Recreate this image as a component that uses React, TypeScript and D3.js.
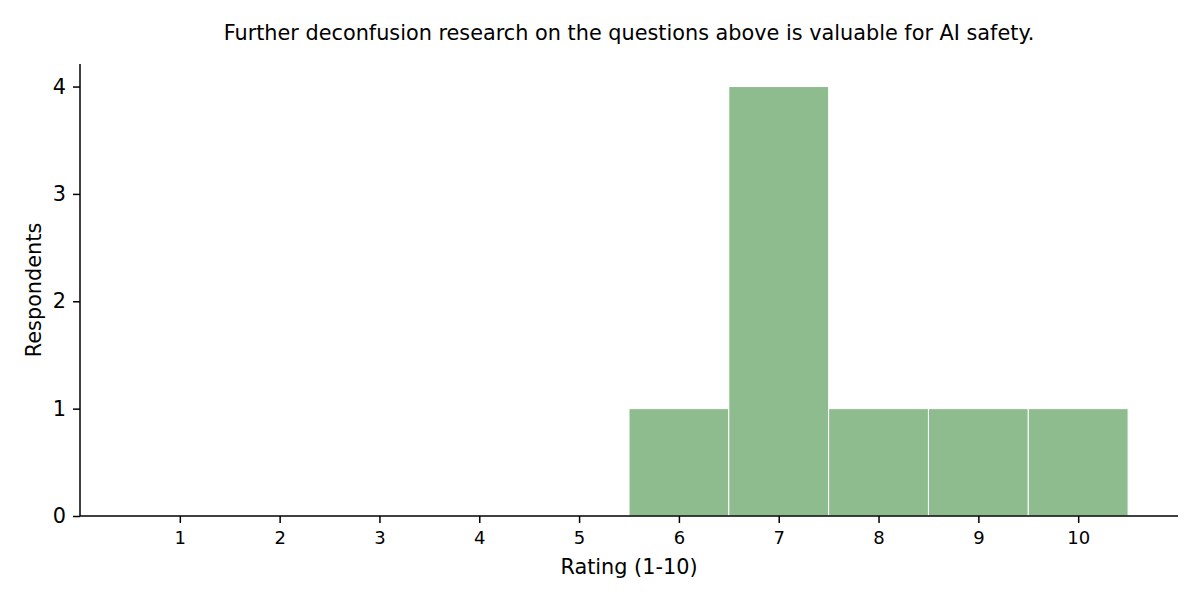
import React, { useEffect, useRef } from 'react';
import * as d3 from 'd3';

const ratings = [1, 2, 3, 4, 5, 6, 7, 8, 9, 10];
const respondents = [0, 0, 0, 0, 0, 1, 4, 1, 1, 1];
const yTicks = [0, 1, 2, 3, 4];
const title = 'Further deconfusion research on the questions above is valuable for AI safety.';

export default function App() {
  const svgRef = useRef<SVGSVGElement>(null);

  useEffect(() => {
    if (!svgRef.current) return;
    document.body.style.margin = '0';
    const width = 1200;
    const height = 600;
    const margin = { top: 64, right: 22, bottom: 84, left: 80 };
    const font = '"DejaVu Sans", sans-serif';

    const svg = d3.select(svgRef.current);
    svg.selectAll('*').remove();

    const x = d3.scaleLinear().domain([0, 11]).range([margin.left, width - margin.right]);
    const y = d3.scaleLinear().domain([0, 4.21]).range([height - margin.bottom, margin.top]);

    // bars (histogram bins of width 1 centred on each rating)
    svg
      .append('g')
      .selectAll('rect')
      .data(ratings.map((r, i) => ({ r, v: respondents[i] })).filter((d) => d.v > 0))
      .enter()
      .append('rect')
      .attr('x', (d) => x(d.r - 0.5))
      .attr('width', (d) => x(d.r + 0.5) - x(d.r - 0.5))
      .attr('y', (d) => y(d.v))
      .attr('height', (d) => y(0) - y(d.v))
      .attr('fill', '#8fbc8f')
      .attr('stroke', '#ffffff')
      .attr('stroke-width', 1);

    // x axis
    const xAxis = svg
      .append('g')
      .attr('transform', `translate(0,${y(0)})`)
      .call(d3.axisBottom(x).tickValues(ratings).tickSize(7).tickPadding(8).tickSizeOuter(0));
    xAxis.select('.domain').attr('stroke', '#000').attr('stroke-width', 1.5).attr('d', `M${margin.left},0H${width - margin.right}`);
    xAxis.selectAll('.tick line').attr('stroke', '#000').attr('stroke-width', 1.5);
    xAxis.selectAll('.tick text').attr('font-family', font).attr('font-size', 18).attr('fill', '#000');

    // y axis
    const yAxis = svg
      .append('g')
      .attr('transform', `translate(${margin.left},0)`)
      .call(d3.axisLeft(y).tickValues(yTicks).tickFormat(d3.format('d')).tickSize(7).tickPadding(7).tickSizeOuter(0));
    yAxis.select('.domain').attr('stroke', '#000').attr('stroke-width', 1.5).attr('d', `M0,${margin.top}V${y(0)}`);
    yAxis.selectAll('.tick line').attr('stroke', '#000').attr('stroke-width', 1.5);
    yAxis.selectAll('.tick text').attr('font-family', font).attr('font-size', 20.8).attr('fill', '#000');

    // labels
    svg
      .append('text')
      .attr('x', (margin.left + width - margin.right) / 2)
      .attr('y', 574)
      .attr('text-anchor', 'middle')
      .attr('font-family', font)
      .attr('font-size', 20.8)
      .text('Rating (1-10)');

    svg
      .append('text')
      .attr('transform', `translate(41,${(margin.top + y(0)) / 2}) rotate(-90)`)
      .attr('text-anchor', 'middle')
      .attr('font-family', font)
      .attr('font-size', 20.8)
      .text('Respondents');

    svg
      .append('text')
      .attr('x', (margin.left + width - margin.right) / 2)
      .attr('y', 40)
      .attr('text-anchor', 'middle')
      .attr('font-family', font)
      .attr('font-size', 20.8)
      .text(title);
  }, []);

  return <svg ref={svgRef} width={1200} height={600} style={{ display: 'block', background: '#fff' }}></svg>;
}
